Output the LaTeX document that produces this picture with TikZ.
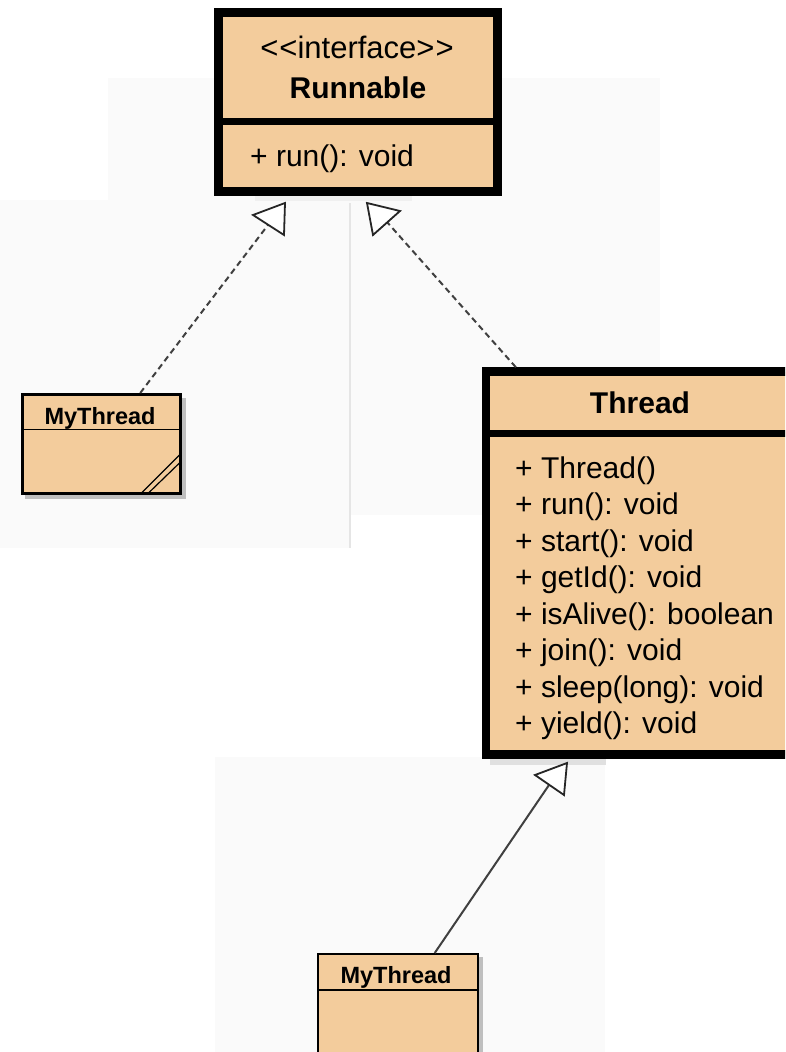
\documentclass[tikz,border=0pt]{standalone}
\usepackage{fontspec}
\setmainfont{Liberation Sans}
\usepackage{tikz}
\definecolor{classTan}{RGB}{243, 204, 156}
\definecolor{edgeGray}{RGB}{64, 64, 64}
\definecolor{panelGray}{RGB}{250, 250, 250}

\begin{document}
\begin{tikzpicture}[x=1pt, y=-1pt,
    classbox/.style={draw=black, fill=classTan, inner sep=0pt},
    boxtitle/.style={font=\fontsize{30}{36}\selectfont\bfseries, anchor=base, inner sep=0pt},
    member/.style={font=\fontsize{30}{36}\selectfont, anchor=base west, inner sep=0pt},
    smalltitle/.style={font=\fontsize{23.5}{28}\selectfont\bfseries, anchor=base, inner sep=0pt},
    realize/.style={edgeGray, line width=2pt, dash pattern=on 6pt off 4pt},
    hollowtip/.style={black!85, line width=1.8pt, fill=white, line join=miter}]
    \useasboundingbox (0,0) rectangle (785,1052);
    \clip (0,0) rectangle (785,1052);
    \fill[white] (0,0) rectangle (785,1052);
    % faint screenshot panels
    \fill[panelGray] (108,78) rectangle (660,200);
    \fill[panelGray] (0,200) rectangle (350,548);
    \fill[panelGray] (350,200) rectangle (660,515);
    \fill[panelGray] (215,757) rectangle (605,1052);
    \draw[black!10, line width=1.2pt] (350,203) -- (350,548);

    % shadows
    \fill[black!6] (255,195) rectangle (412,201);
    \fill[black!12] (490,757) rectangle (606,765);
    \fill[black!25] (25,398) rectangle (186,499);
    \fill[black!25] (321,957) rectangle (483,1060);

    % Runnable
    \node[classbox, line width=9pt, minimum width=279pt, minimum height=179pt] (runnable) at (358,101.5) {};
    \draw[line width=7pt] (214,121.5) -- (502,121.5);
    \node[boxtitle, font=\fontsize{31}{36}\selectfont] (runStereo) at (357,58)
      {<\kern1pt<\kern0pt interface\kern0pt>\kern1pt>};
    \node[boxtitle] (runTitle) at (358,98) {Runnable};
    \node[member] (runOp) at (250,166) {+ run(): void};

    % Thread
    \node[classbox, line width=8.5pt, minimum width=314pt, minimum height=383pt] (thread) at (643,563) {};
    \draw[line width=7pt] (482,433.5) -- (800,433.5);
    \node[boxtitle] (threadTitle) at (640,413) {Thread};
    \foreach \m [count=\i from 0] in {Thread(), run(): void, start(): void, getId(): void,
        isAlive(): boolean, join(): void, sleep(long): void, yield(): void}
      \node[member] (threadOp\i) at (515,{478+36.5*\i}) {+ \m};

    % MyThread, left
    \node[classbox, line width=3pt, minimum width=158pt, minimum height=99pt] (myThreadA) at (101.5,444) {};
    \draw[line width=1.8pt] (21,429.5) -- (182,429.5);
    \node[smalltitle] (myThreadATitle) at (100,424) {MyThread};
    \draw[line width=1.2pt] (141.5,493) -- (180.5,454);
    \draw[line width=1.2pt] (148.5,493) -- (180.5,462);

    % MyThread, bottom
    \node[classbox, line width=2pt, minimum width=160pt, minimum height=106pt] (myThreadB) at (398,1007) {};
    \draw[line width=1.8pt] (317,990) -- (479,990);
    \node[smalltitle] (myThreadBTitle) at (396,983) {MyThread};

    % connectors
    \coordinate (tipA) at (268,225);
    \coordinate (tipB) at (387,222);
    \coordinate (tipC) at (549,785);
    \draw[realize] (myThreadA) -- (tipA);
    \draw[realize] (thread.123) -- (tipB);
    \draw[edgeGray, line width=2pt] (myThreadB) -- (tipC);
    \draw[hollowtip] (253,215) -- (285,203) -- (284,235) -- cycle;
    \draw[hollowtip] (367,203) -- (400,211) -- (373,235) -- cycle;
    \draw[hollowtip] (535,775) -- (567,763) -- (564,795) -- cycle;
\end{tikzpicture}
\end{document}
